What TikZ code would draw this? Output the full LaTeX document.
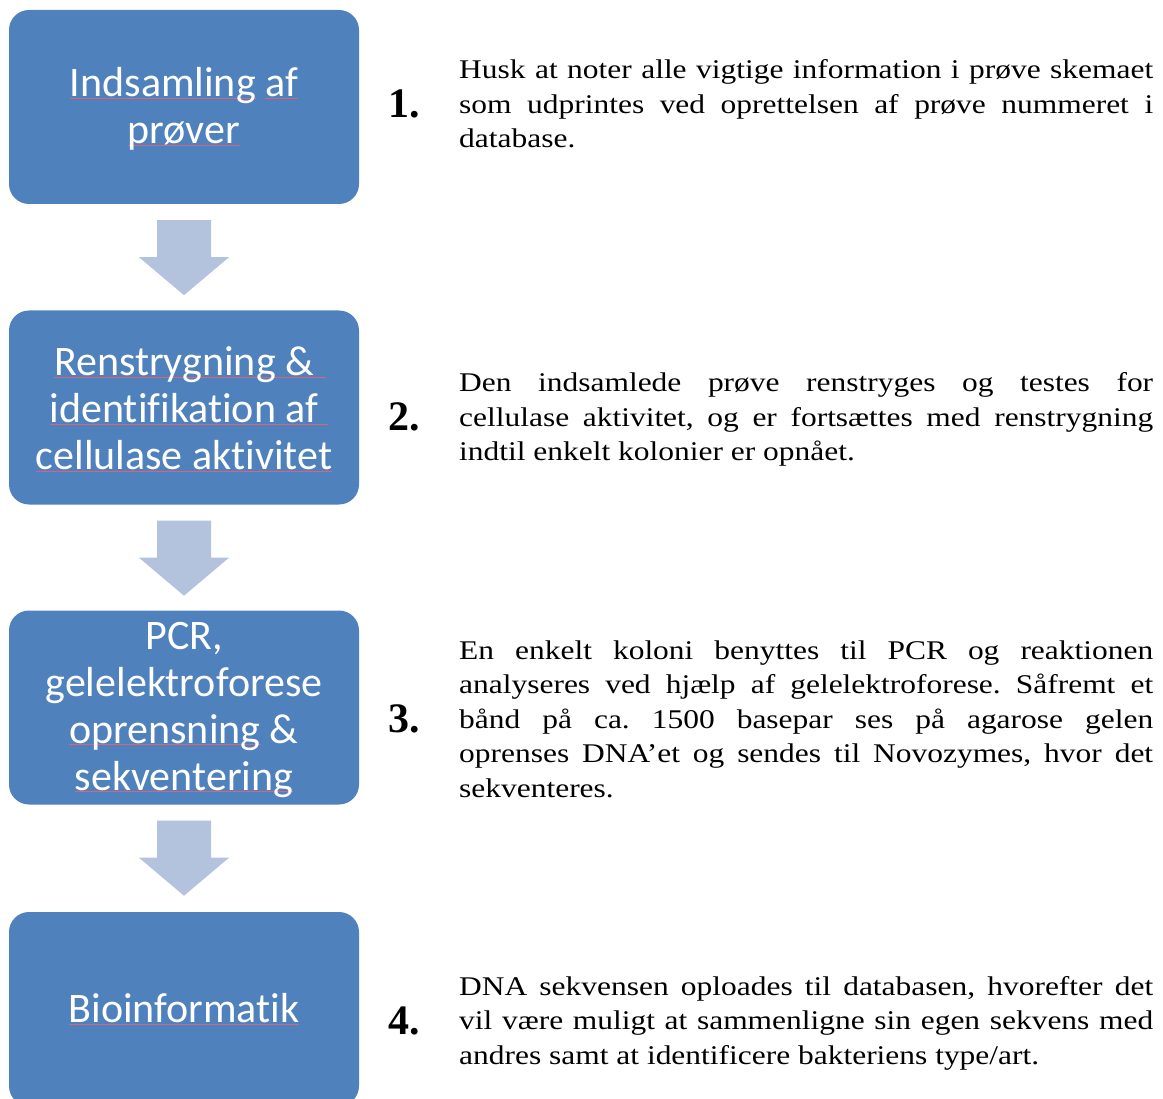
\documentclass[tikz,border=0pt]{standalone}
\usepackage{fontspec}
\setmainfont{Liberation Serif}
\newfontfamily\boxfont[Ligatures={NoCommon,NoRare,NoDiscretionary}]{Carlito}
\newfontfamily\descfont[FakeStretch=1.165]{Liberation Serif}
\newfontfamily\numfont{Liberation Serif}
\usetikzlibrary{calc}
\definecolor{boxblue}{RGB}{79,129,189}
\definecolor{arrowblue}{RGB}{179,195,222}
\definecolor{spellred}{RGB}{215,100,120}
\newcommand\spl[2][0pt]{\leavevmode\setbox0\hbox{#2}\rlap{\color{spellred}\rule[-2pt]{\dimexpr\wd0+#1\relax}{0.6pt}}\box0\relax}
\newcommand\descpar[1]{\parbox[t]{694pt}{\frenchspacing\tolerance=9999\hbadness=10000\emergencystretch=20pt #1}}
\tikzset{
  stepbox/.style={rectangle, rounded corners=20pt, fill=boxblue, draw=none,
    minimum width=350pt, minimum height=194pt, text width=340pt, align=center,
    text=white, inner sep=0pt, font=\boxfont\fontsize{42}{47}\selectfont},
  boxtext/.style={text=white, inner sep=0pt, align=center, font=\boxfont\fontsize{42}{47}\selectfont},
  numlabel/.style={anchor=base west, inner sep=0pt, font=\numfont\bfseries\fontsize{42}{42}\selectfont},
  desc/.style={anchor=base west, inner sep=0pt, font=\descfont\fontsize{27}{34.5}\selectfont},
  flowarrow/.style={fill=arrowblue, draw=none}
}
\begin{document}
\begin{tikzpicture}[x=1pt,y=-1pt]
\useasboundingbox (0,0) rectangle (1163,1099);
% boxes
\node[stepbox] (b1) at (184,107) {};
\node[stepbox] (b2) at (184,407.5) {};
\node[stepbox] (b3) at (184,707.5) {};
\node[stepbox] (b4) at (184,1009) {};
% box texts
\node[boxtext] (t1) at ($(b1.center)+(0,2)$) {\spl{Indsamling} \spl{af}\\\spl{prøver}};
\node[boxtext] (t2) at ($(b2.center)+(0,1.5)$) {\spl[12pt]{Renstrygning \&}\\\spl[10pt]{identifikation af}\\\spl{cellulase aktivitet}};
\node[boxtext] (t3) at ($(b3.center)+(0,2)$) {PCR,\\gelelektroforese\\\spl{oprensning} \&\\\spl{sekventering}};
\node[boxtext] (t4) at (b4.center) {\spl{Bioinformatik}};
% block arrows
\foreach \a in {b1,b2,b3}{
  \fill[flowarrow] ($(\a.south)+(-27,16)$) -- ($(\a.south)+(27,16)$) -- ($(\a.south)+(27,53)$)
    -- ($(\a.south)+(45,53)$) -- ($(\a.south)+(0,91)$) -- ($(\a.south)+(-45,53)$)
    -- ($(\a.south)+(-27,53)$) -- cycle;
}
% numbers
\node[numlabel] (n1) at (388,118) {1.};
\node[numlabel] (n2) at (388,431) {2.};
\node[numlabel] (n3) at (388,732) {3.};
\node[numlabel] (n4) at (388,1034) {4.};
% descriptions
\node[desc] (d1) at (459,79) {\descpar{Husk at noter alle vigtige information i prøve skemaet\linebreak som udprintes ved oprettelsen af prøve nummeret i\linebreak database.}};
\node[desc] (d2) at (459,392) {\descpar{Den indsamlede prøve renstryges og testes for\linebreak cellulase aktivitet, og er fortsættes med renstrygning\linebreak indtil enkelt kolonier er opnået.}};
\node[desc] (d3) at (459,659) {\descpar{En enkelt koloni benyttes til PCR og reaktionen\linebreak analyseres ved hjælp af gelelektroforese. Såfremt et\linebreak bånd på ca. 1500 basepar ses på agarose gelen\linebreak oprenses DNA’et og sendes til Novozymes, hvor det\linebreak sekventeres.}};
\node[desc] (d4) at (459,995) {\descpar{DNA sekvensen oploades til databasen, hvorefter det\linebreak vil være muligt at sammenligne sin egen sekvens med\linebreak andres samt at identificere bakteriens type/art.}};
\end{tikzpicture}
\end{document}
